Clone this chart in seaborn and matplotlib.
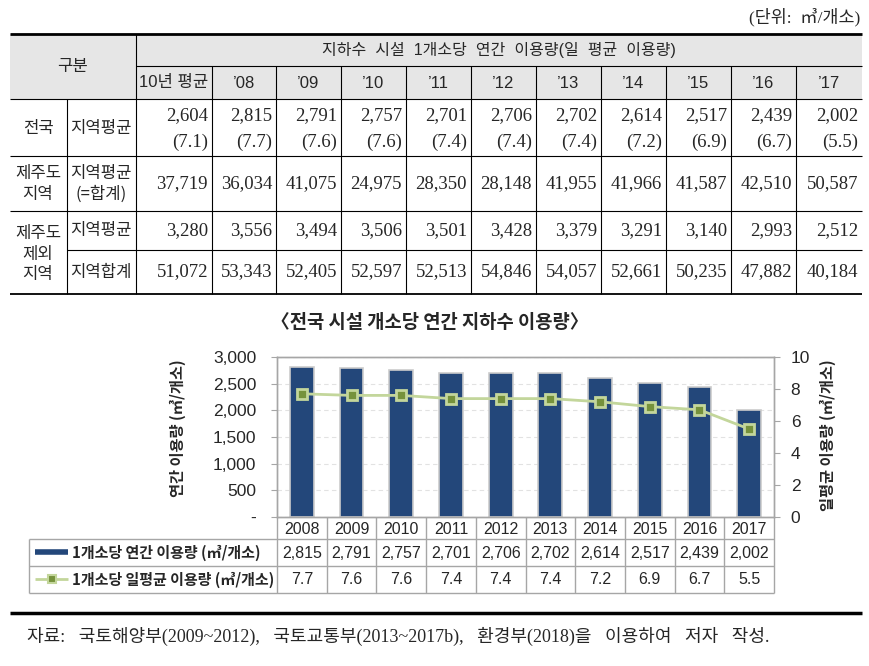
import numpy as np
import matplotlib
matplotlib.use('Agg')
import matplotlib.pyplot as plt
import matplotlib.transforms as mtrans
from matplotlib.lines import Line2D
from matplotlib.ticker import FuncFormatter
import seaborn as sns

# 표 데이터 (단위: ㎥/개소)
unit_text = '(단위:  ㎥/개소)'
table_title = '지하수  시설  1개소당  연간  이용량(일  평균  이용량)'
col_labels = ['10년 평균', '’08', '’09', '’10', '’11', '’12', '’13', '’14', '’15', '’16', '’17']
national_avg = [2604, 2815, 2791, 2757, 2701, 2706, 2702, 2614, 2517, 2439, 2002]
national_daily = [7.1, 7.7, 7.6, 7.6, 7.4, 7.4, 7.4, 7.2, 6.9, 6.7, 5.5]
jeju_avg = [37719, 36034, 41075, 24975, 28350, 28148, 41955, 41966, 41587, 42510, 50587]
other_avg = [3280, 3556, 3494, 3506, 3501, 3428, 3379, 3291, 3140, 2993, 2512]
other_sum = [51072, 53343, 52405, 52597, 52513, 54846, 54057, 52661, 50235, 47882, 40184]

# 그래프 데이터
chart_title = '〈전국 시설 개소당 연간 지하수 이용량〉'
chart_years = ['2008', '2009', '2010', '2011', '2012', '2013', '2014', '2015', '2016', '2017']
annual_use = [2815, 2791, 2757, 2701, 2706, 2702, 2614, 2517, 2439, 2002]
daily_use = [7.7, 7.6, 7.6, 7.4, 7.4, 7.4, 7.2, 6.9, 6.7, 5.5]
annual_label = '1개소당 연간 이용량 (㎥/개소)'
daily_label = '1개소당 일평균 이용량 (㎥/개소)'
source_text = '자료:   국토해양부(2009~2012),   국토교통부(2013~2017b),   환경부(2018)을   이용하여   저자   작성.'

NAVY = '#23477a'
LIGHT_GREEN = '#c3d69b'
OLIVE = '#76923c'
GRID_GRAY = '#a6a6a6'

sns.set_theme(style='white')
SANS = ['Liberation Sans', 'Noto Sans CJK KR']
SERIF = ['Liberation Serif', 'Noto Sans CJK KR']
CJK = ['Noto Sans CJK KR', 'DejaVu Sans']
plt.rcParams['font.family'] = SANS

W, H = 869, 666
fig = plt.figure(figsize=(W / 100, H / 100), dpi=100)
fig.patch.set_facecolor('white')

# 픽셀 좌표용 배경 축
page = fig.add_axes([0, 0, 1, 1])
page.set_xlim(0, W)
page.set_ylim(H, 0)
page.axis('off')

# ---------------- 상단 표 ----------------
col_edges = [10, 67, 136, 212, 276, 341, 406, 471, 536, 601, 666, 731, 796, 862]

page.text(860, 17, unit_text, ha='right', va='center', fontsize=12.5, family=SERIF)
page.fill_between([10, 862], 34, 99, color='#e6e6e6', lw=0, zorder=0)

page.hlines(34, 10, 862, color='black', lw=2)
page.hlines(66, 136, 862, color='black', lw=0.8)
for y in [99, 156, 211]:
    page.hlines(y, 10, 862, color='black', lw=0.8)
page.hlines(250, 67, 862, color='black', lw=0.8)
page.hlines(294, 10, 862, color='black', lw=1.3)
page.vlines(136, 34, 294, color='black', lw=0.8)
page.vlines(67, 99, 294, color='black', lw=0.8)
for x in col_edges[3:-1]:
    page.vlines(x, 66, 294, color='black', lw=0.8)

page.text(73, 67, '구분', ha='center', va='center', fontsize=12, family=CJK)
page.text(499, 50, table_title, ha='center', va='center', fontsize=11.5, family=SANS)
for j, lab in enumerate(col_labels):
    xc = (col_edges[j + 2] + col_edges[j + 3]) / 2
    page.text(xc, 83, lab, ha='center', va='center', fontsize=12, family=SANS)

# 행 제목
lab_kw = dict(ha='center', va='center', fontsize=12, family=CJK, linespacing=1.25)
page.text(38, 128, '전국', **lab_kw)
page.text(101, 128, '지역평균', **lab_kw)
page.text(38, 184, '제주도\n지역', **lab_kw)
page.text(101, 184, '지역평균\n(=합계)', **lab_kw)
page.text(38, 254, '제주도\n제외\n지역', **lab_kw)
page.text(101, 231, '지역평균', **lab_kw)
page.text(101, 272, '지역합계', **lab_kw)

for j in range(len(col_labels)):
    xr = col_edges[j + 3] - 4
    kw = dict(ha='right', va='center', fontsize=13.5, family=SERIF)
    page.text(xr, 116, f'{national_avg[j]:,}', **kw)
    page.text(xr, 142, f'({national_daily[j]:.1f})', **kw)
    page.text(xr, 184, f'{jeju_avg[j]:,}', **kw)
    page.text(xr, 231, f'{other_avg[j]:,}', **kw)
    page.text(xr, 272, f'{other_sum[j]:,}', **kw)

# ---------------- 그래프 ----------------
page.text(430, 323, chart_title, ha='center', va='center', fontsize=13.5, fontweight='bold', family=CJK)

ax = fig.add_axes([277 / W, 1 - 517 / H, (774 - 277) / W, (517 - 357) / H])
sns.barplot(x=chart_years, y=annual_use, ax=ax, color=NAVY, saturation=1, width=0.48,
            edgecolor='#cccccc', linewidth=1.2, zorder=2)
ax.set_ylim(0, 3000)
ax.set_yticks(np.arange(0, 3001, 500))
ax.yaxis.set_major_formatter(FuncFormatter(lambda v, p: '-' if v == 0 else f'{int(v):,}'))
ax.set_axisbelow(True)
ax.yaxis.grid(True, color='#e2e2e2', linestyle=(0, (4, 3)), linewidth=0.8)
ax.set_xlabel('')
ax.set_ylabel('')
ax.tick_params(axis='x', bottom=False, labelbottom=False)
ax.tick_params(axis='y', left=True, length=4, width=0.8, color=GRID_GRAY, pad=11, labelsize=12.5)
for sp in ax.spines.values():
    sp.set_color(GRID_GRAY)
    sp.set_linewidth(1)

ax2 = ax.twinx()
sns.pointplot(x=chart_years, y=daily_use, ax=ax2, color=LIGHT_GREEN, markers='s', errorbar=None,
              markersize=7, markerfacecolor=OLIVE, markeredgecolor=LIGHT_GREEN,
              markeredgewidth=2, linewidth=2)
ax2.set_ylim(0, 10)
ax2.set_yticks(np.arange(0, 11, 2))
ax2.set_xlabel('')
ax2.set_ylabel('')
ax2.tick_params(axis='y', right=True, length=4, width=0.8, color=GRID_GRAY, pad=8, labelsize=12.5)
ax2.tick_params(axis='x', bottom=False, labelbottom=False)
for sp in ax2.spines.values():
    sp.set_color(GRID_GRAY)
    sp.set_linewidth(1)
ax.set_xlim(-0.5, len(chart_years) - 0.5)

page.text(178, 428, '연간 이용량 (㎥/개소)', rotation=90, ha='center', va='center',
          fontsize=11, fontweight='bold', family=CJK)
page.text(828, 435, '일평균 이용량 (㎥/개소)', rotation=90, ha='center', va='center',
          fontsize=11, fontweight='bold', family=CJK)

# 그래프 아래 데이터 표
blend = mtrans.blended_transform_factory(ax.transData, page.transData)
n = len(chart_years)
page.hlines([539, 566, 593], 29, 774, color=GRID_GRAY, lw=1)
page.vlines(29, 539, 593, color=GRID_GRAY, lw=1)
page.vlines(np.arange(n + 1) - 0.5, 517, 593, color=GRID_GRAY, lw=1, transform=blend)
for i in range(n):
    page.text(i, 529, chart_years[i], ha='center', va='center', fontsize=11.5, transform=blend)
    page.text(i, 553, f'{annual_use[i]:,}', ha='center', va='center', fontsize=11.5, transform=blend)
    page.text(i, 580, f'{daily_use[i]:.1f}', ha='center', va='center', fontsize=11.5, transform=blend)

leg_prop = {'family': CJK, 'size': 10.8, 'weight': 'bold'}
h_bar = Line2D([], [], color=NAVY, lw=4, solid_capstyle='butt')
h_line = Line2D([], [], color=LIGHT_GREEN, lw=2, marker='s', markersize=6, solid_capstyle='butt',
                markerfacecolor=OLIVE, markeredgecolor=LIGHT_GREEN, markeredgewidth=1.5)
for h, lab, yc in [(h_bar, annual_label, 552.5), (h_line, daily_label, 579.5)]:
    fig.legend(handles=[h], labels=[lab], loc='center left', bbox_to_anchor=(32 / W, 1 - yc / H),
               frameon=False, prop=leg_prop, borderaxespad=0, borderpad=0.2,
               handlelength=2.2, handletextpad=0.3)

# 출처
page.hlines(613, 10, 862, color='black', lw=2.5)
page.text(27, 636, source_text, ha='left', va='center', fontsize=13, family=SERIF)

fig.savefig('out.png', dpi=100)
